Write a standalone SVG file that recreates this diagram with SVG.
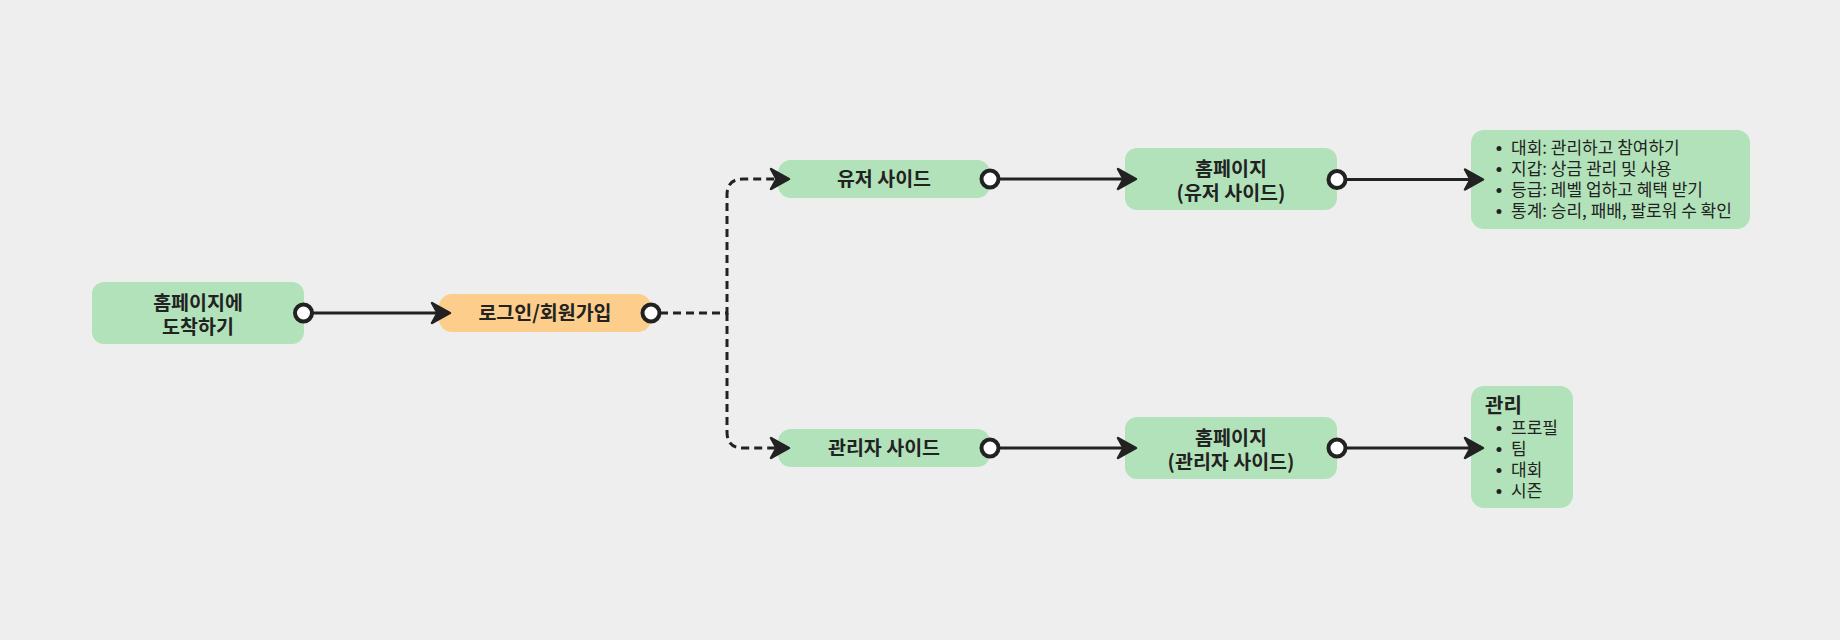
<svg xmlns="http://www.w3.org/2000/svg" width="1840" height="640" viewBox="0 0 1840 640">
<defs>
<style>
.g{fill:#b2e2b9}
.o{fill:#fccd8b}
.t{font-family:"Noto Sans CJK KR","Noto Sans",sans-serif;font-weight:700;font-size:19.5px;fill:#222;text-anchor:middle}
.l{font-family:"Noto Sans CJK KR","Noto Sans",sans-serif;font-weight:400;font-size:17px;fill:#222}
.h{font-family:"Noto Sans CJK KR","Noto Sans",sans-serif;font-weight:700;font-size:20px;fill:#222}
.b{fill:#222}
.c{fill:none;stroke:#222;stroke-width:3}
.d{fill:none;stroke:#222;stroke-width:3;stroke-dasharray:8 5}
.p{fill:#fff;stroke:#222;stroke-width:4}
</style>
<marker id="arr" viewBox="-16 -13 24 26" markerWidth="24" markerHeight="26" refX="0" refY="0" orient="auto" markerUnits="userSpaceOnUse">
<path d="M6,0 L-12,-10 L-6.5,0 L-12,10 Z" fill="#222" stroke="#222" stroke-width="2.5" stroke-linejoin="round" stroke-dasharray="none"/>
</marker>
</defs>
<rect width="1840" height="640" fill="#eeeeee"/>

<g id="n1">
<rect class="g" x="92" y="282" width="212" height="62" rx="12"/>
<text class="t" x="198" y="310"><tspan x="198">홈페이지에</tspan><tspan x="198" dy="24">도착하기</tspan></text>
</g>
<g id="n2">
<rect class="o" x="439" y="294" width="212" height="38" rx="13"/>
<text class="t" x="545" y="320">로그인/회원가입</text>
</g>
<g id="n3">
<rect class="g" x="778" y="160" width="212" height="38" rx="13"/>
<text class="t" x="884" y="186">유저 사이드</text>
</g>
<g id="n4">
<rect class="g" x="1125" y="148" width="212" height="62" rx="12"/>
<text class="t" x="1231" y="176"><tspan x="1231">홈페이지</tspan><tspan x="1231" dy="24">(유저 사이드)</tspan></text>
</g>
<g id="n5">
<rect class="g" x="1471" y="130" width="279" height="99" rx="13"/>
<circle class="b" cx="1499" cy="148.5" r="2.5"/>
<circle class="b" cx="1499" cy="169.5" r="2.5"/>
<circle class="b" cx="1499" cy="190.5" r="2.5"/>
<circle class="b" cx="1499" cy="211.5" r="2.5"/>
<text class="l" x="1511" y="154"><tspan x="1511">대회: 관리하고 참여하기</tspan><tspan x="1511" dy="21">지갑: 상금 관리 및 사용</tspan><tspan x="1511" dy="21">등급: 레벨 업하고 혜택 받기</tspan><tspan x="1511" dy="21">통계: 승리, 패배, 팔로워 수 확인</tspan></text>
</g>
<g id="n6">
<rect class="g" x="778" y="429" width="212" height="38" rx="13"/>
<text class="t" x="884" y="455">관리자 사이드</text>
</g>
<g id="n7">
<rect class="g" x="1125" y="417" width="212" height="62" rx="12"/>
<text class="t" x="1231" y="445"><tspan x="1231">홈페이지</tspan><tspan x="1231" dy="24">(관리자 사이드)</tspan></text>
</g>
<g id="n8">
<rect class="g" x="1471" y="386" width="102" height="122" rx="13"/>
<text class="h" x="1485" y="413">관리</text>
<circle class="b" cx="1499" cy="428.5" r="2.5"/>
<circle class="b" cx="1499" cy="449.5" r="2.5"/>
<circle class="b" cx="1499" cy="470.5" r="2.5"/>
<circle class="b" cx="1499" cy="491.5" r="2.5"/>
<text class="l" x="1511" y="434"><tspan x="1511">프로필</tspan><tspan x="1511" dy="21">팀</tspan><tspan x="1511" dy="21">대회</tspan><tspan x="1511" dy="21">시즌</tspan></text>
</g>

<g id="connectors">
<path class="c" d="M304,313 H444" marker-end="url(#arr)"/>
<path class="d" d="M660,313 H727 V195 Q727,179 743,179 H783" marker-end="url(#arr)"/>
<path class="d" d="M727,313 V432 Q727,448 743,448 H783" marker-end="url(#arr)"/>
<path class="c" d="M990,179 H1130" marker-end="url(#arr)"/>
<path class="c" d="M1337,179.5 H1477" marker-end="url(#arr)"/>
<path class="c" d="M990,448 H1130" marker-end="url(#arr)"/>
<path class="c" d="M1337,448 H1477" marker-end="url(#arr)"/>
<circle class="p" cx="303.5" cy="313" r="8.5"/>
<circle class="p" cx="651" cy="313" r="8.5"/>
<circle class="p" cx="990" cy="179" r="8.5"/>
<circle class="p" cx="1337" cy="179.5" r="8.5"/>
<circle class="p" cx="990" cy="448" r="8.5"/>
<circle class="p" cx="1337" cy="448" r="8.5"/>
</g>
</svg>
